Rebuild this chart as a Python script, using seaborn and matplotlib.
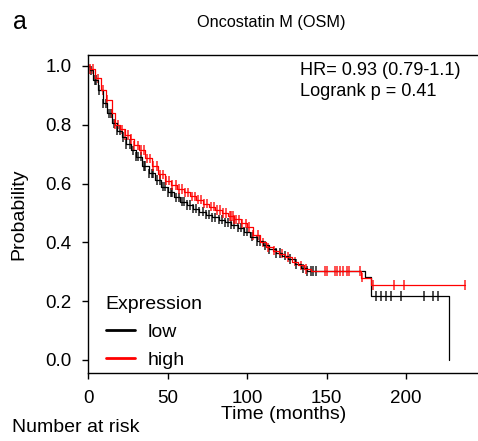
import numpy as np
import pandas as pd
import matplotlib
matplotlib.use("Agg")
import matplotlib.pyplot as plt
import seaborn as sns

# Kaplan-Meier curves (months, survival probability)
low_t = [0, 1, 3, 6, 9, 12, 15, 18, 21, 24, 27, 30, 34, 38, 42, 46, 50, 54, 58, 62, 66,
         70, 74, 78, 82, 86, 90, 94, 98, 102, 106, 110, 114, 118, 122, 126, 130, 134,
         138, 174, 178, 227]
low_s = [1.0, 0.985, 0.952, 0.918, 0.873, 0.839, 0.805, 0.78, 0.758, 0.735, 0.713, 0.692,
         0.66, 0.635, 0.612, 0.59, 0.57, 0.553, 0.538, 0.527, 0.515, 0.505, 0.494, 0.485,
         0.477, 0.468, 0.46, 0.45, 0.437, 0.42, 0.405, 0.39, 0.376, 0.364, 0.355, 0.343,
         0.327, 0.312, 0.303, 0.283, 0.218, 0.0]

high_t = [0, 1, 4, 8, 11, 15, 17, 20, 23, 26, 29, 32, 36, 40, 44, 48, 52, 56, 60, 64, 68,
          72, 76, 80, 84, 88, 92, 96, 100, 104, 108, 112, 116, 120, 124, 128, 132, 136,
          140, 172, 178, 237]
high_s = [1.0, 0.99, 0.958, 0.918, 0.884, 0.839, 0.80, 0.785, 0.765, 0.752, 0.73, 0.714,
          0.686, 0.66, 0.632, 0.61, 0.595, 0.582, 0.57, 0.557, 0.545, 0.532, 0.522, 0.51,
          0.5, 0.49, 0.478, 0.465, 0.452, 0.425, 0.4, 0.383, 0.372, 0.362, 0.35, 0.335,
          0.322, 0.31, 0.303, 0.28, 0.255, 0.255]

# censored observations (months)
low_cens = [2, 4, 5, 7, 9, 11, 13, 14, 16, 18, 20, 22, 24, 26, 28, 30, 31, 33, 35, 36, 38,
            40, 41, 43, 45, 47, 48, 50, 52, 53, 55, 57, 59, 60, 62, 64, 66, 68, 70, 72, 74,
            76, 78, 80, 82, 84, 86, 88, 90, 92, 94, 96, 98, 100, 103, 106, 108, 111, 114,
            118, 121, 124, 127, 131, 135, 138, 140, 141.5, 143.5, 181, 184.3, 187.4,
            190.4, 196.7, 211.3, 217.2, 220.3]
high_cens = [1, 3, 6, 9, 12, 15, 17, 19, 21, 23, 25, 27, 29, 31, 33, 35, 37, 39, 41, 43, 45,
             47, 49, 51, 53, 55, 57, 59, 61, 63, 65, 67, 69, 71, 73, 75, 77, 79, 81, 83, 85,
             87, 89, 90, 91, 92, 93, 95, 97, 99, 101, 104, 107, 110, 113, 117, 122, 126,
             130, 134, 137, 149, 150.5, 155.3, 156.8, 158.5, 160.6, 162.7, 164.3, 171,
             172.1, 179.5, 192.5, 199, 237]

groups = ["low", "high"]
colors = {"low": "black", "high": "red"}


def step_value(ts, ss, x):
    # value of the right-continuous step function at x
    i = np.searchsorted(ts, x, side="right") - 1
    return np.asarray(ss)[i]


curves = pd.concat([
    pd.DataFrame({"Time": low_t, "S": low_s, "Expression": "low"}),
    pd.DataFrame({"Time": high_t, "S": high_s, "Expression": "high"}),
])
cens = pd.concat([
    pd.DataFrame({"Time": low_cens, "S": step_value(low_t, low_s, low_cens), "Expression": "low"}),
    pd.DataFrame({"Time": high_cens, "S": step_value(high_t, high_s, high_cens), "Expression": "high"}),
])

sns.set_style("ticks")
plt.rcParams["font.family"] = ["Liberation Sans", "DejaVu Sans"]
for k in ["text.color", "axes.labelcolor", "xtick.color", "ytick.color", "axes.edgecolor"]:
    plt.rcParams[k] = "black"

fig = plt.figure(figsize=(4.78, 4.41), dpi=100)
ax = fig.add_axes([88.3 / 478, 1 - 373 / 441, 1 - 88.3 / 478, (373 - 55) / 441])

sns.lineplot(data=curves, x="Time", y="S", hue="Expression", hue_order=groups,
             palette=colors, drawstyle="steps-post", estimator=None, sort=False,
             linewidth=0.9, ax=ax)
sns.scatterplot(data=cens, x="Time", y="S", hue="Expression", hue_order=groups,
                palette=colors, marker="|", s=45, linewidth=1.2, alpha=0.8,
                legend=False, ax=ax)

ax.set_xlim(0, (478 - 88.3) / 1.588)
ax.set_ylim(-13 / 294, 305 / 294)
ax.set_xticks([0, 50, 100, 150, 200])
ax.set_yticks([0.0, 0.2, 0.4, 0.6, 0.8, 1.0])
ax.set_yticklabels(["0.0", "0.2", "0.4", "0.6", "0.8", "1.0"])
ax.tick_params(labelsize=13.5, length=4, width=1, pad=8)
ax.tick_params(axis="x", pad=8.5)
for side in ["left", "bottom", "top"]:
    ax.spines[side].set_linewidth(1.0)
ax.spines["right"].set_visible(False)

ax.set_xlabel("Time (months)", fontsize=14)
ax.set_ylabel("Probability", fontsize=14)
ax.xaxis.set_label_coords(0.5, -0.105)
ax.yaxis.set_label_coords(-0.157, 0.5)

leg = ax.legend(title="Expression", loc="lower left", bbox_to_anchor=(0.045, 0.012),
                frameon=False, fontsize=14, title_fontsize=14, handlelength=1.5,
                handletextpad=0.65, labelspacing=0.55, borderpad=0, borderaxespad=0)
leg._legend_box.align = "left"
for line in leg.get_lines():
    line.set_linewidth(2)

ax.text(133.3, 0.986, "HR= 0.93 (0.79-1.1)", fontsize=13.1, va="center", ha="left")
ax.text(133.3, 0.912, "Logrank p = 0.41", fontsize=13.1, va="center", ha="left")

fig.text(271 / 478, 1 - 22 / 441, "Oncostatin M (OSM)", fontsize=11.7, ha="center", va="center")
fig.text(13 / 478, 1 - 22 / 441, "a", fontsize=18, ha="left", va="center")
fig.text(12 / 478, 1 - 428 / 441, "Number at risk", fontsize=14, ha="left", va="center")

fig.savefig("out.png", dpi=100)
